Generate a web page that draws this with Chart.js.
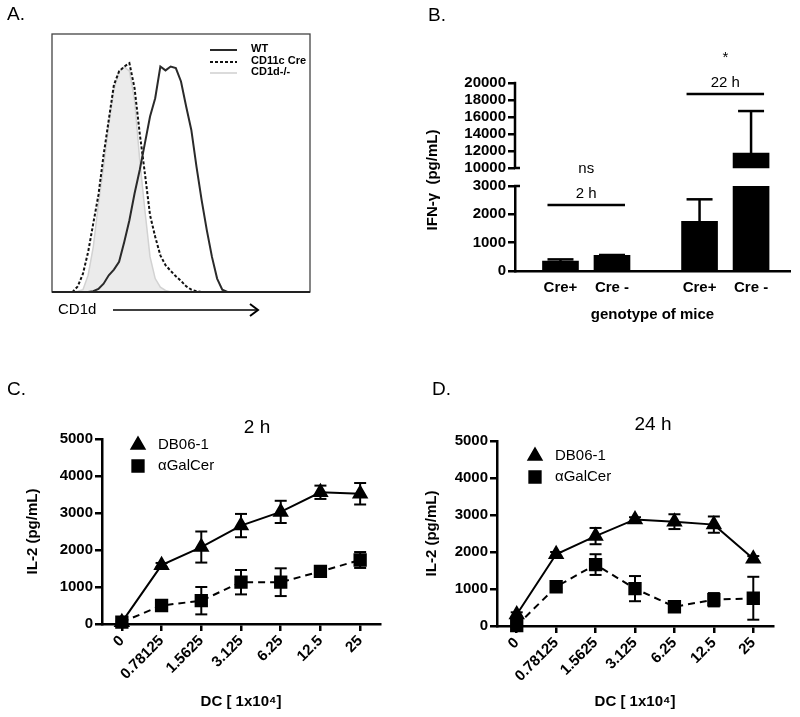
<!DOCTYPE html>
<html>
<head>
<meta charset="utf-8">
<script src="https://cdn.jsdelivr.net/npm/chart.js@4.4.0/dist/chart.umd.min.js"></script>
<style>
    html, body { margin: 0; padding: 0; background: #fff; }
    #figure { position: relative; width: 800px; height: 717px; }
    canvas { position: absolute; }
</style>
</head>
<body>
<div id="figure">
    <canvas id="panelA" width="400" height="340" style="left:0;top:0"></canvas>
    <canvas id="panelB" width="400" height="340" style="left:400px;top:0"></canvas>
    <canvas id="panelC" width="400" height="377" style="left:0;top:340px"></canvas>
    <canvas id="panelD" width="400" height="377" style="left:400px;top:340px"></canvas>
</div>
<script>
// Panel A: CD1d histogram (% of max)
const cd1dChannel = [40, 60, 80, 100, 120, 140, 160, 180, 200, 220, 240, 260, 280, 300, 320, 340, 360, 380,
    400, 420, 440, 460, 480, 500, 520, 540, 560, 580, 600, 620, 640, 660, 680, 700, 720];
const wtCounts = [0, 0, 0, 0, 0, 0, 0.3, 1.2, 3.2, 6.5, 8.7, 11.7, 19.4, 27.8, 38.2, 47.3, 57.6, 68,
    75.1, 87.4, 85.9, 87.4, 86.8, 81.6, 71.9, 62.8, 48.6, 35.6, 24, 13.6, 5.2, 0.9, 0, 0, 0];
const creCounts = [0, 0, 0, 2.2, 7.1, 15.5, 26.6, 37.6, 53.1, 66.7, 80.3, 85.5, 87.4, 88.7, 79, 61.5, 46, 29.8,
    21.4, 14.2, 10.4, 8.2, 6.1, 4.3, 2.2, 0.9, 0.3, 0, 0, 0, 0, 0, 0, 0, 0];
const koCounts = [0, 0, 0, 0.3, 0.9, 6.5, 17.5, 34.3, 48.6, 64.8, 78.4, 85.5, 87.3, 85.6, 74.5, 51.2, 31.7, 13.6,
    5.2, 1.9, 0.6, 0, 0, 0, 0, 0, 0, 0, 0, 0, 0, 0, 0, 0, 0];

// Panel B: IFN-g
const genotypes = ['Cre+', 'Cre -', 'Cre+', 'Cre -'];
const ifngMean = [350, 550, 1750, 11750];
const ifngErr = [60, 15, 780, 4950];
const ifngTicksLow = [0, 1000, 2000, 3000];
const ifngTicksHigh = [10000, 12000, 14000, 16000, 18000, 20000];
const comparisons = [
    { label: '2 h', stat: 'ns', bars: [0, 1], level: 2330 },
    { label: '22 h', stat: '*', bars: [2, 3], level: 18700 }
];

// Panels C and D: IL-2
const dcLabels = ['0', '0.78125', '1.5625', '3.125', '6.25', '12.5', '25'];
const il2Ticks = [0, 1000, 2000, 3000, 4000, 5000];
const db06Mean2h = [50, 1590, 2080, 2660, 3030, 3560, 3520];
const db06Err2h = [30, 60, 420, 315, 300, 180, 290];
const galMean2h = [50, 500, 630, 1130, 1130, 1420, 1730];
const galErr2h = [30, 60, 370, 330, 375, 50, 215];
const db06Mean24h = [310, 1940, 2430, 2880, 2820, 2740, 1820];
const db06Err24h = [60, 60, 220, 60, 200, 220, 70];
const galMean24h = [10, 1060, 1660, 1010, 520, 710, 750];
const galErr24h = [30, 60, 280, 340, 70, 180, 580];

const FONT = "'Liberation Sans', Arial, Helvetica, sans-serif";
Chart.defaults.font.family = FONT;
Chart.defaults.color = '#000';
Chart.defaults.animation = false;
Chart.defaults.responsive = false;
Chart.defaults.plugins.legend.display = false;
Chart.defaults.plugins.tooltip.enabled = false;

const tickFont = { size: 15, weight: 'bold' };
const titleFont = { size: 15, weight: 'bold' };
const axisGrid = { drawOnChartArea: false, drawTicks: true, tickLength: 7, color: '#000', lineWidth: 2.5 };
const axisBorder = { color: '#000', width: 2.5 };
const fixedTicks = values => s => { s.ticks = values.map(v => ({ value: v })); };

// Text helper
const text = (ctx, str, x, y, font, align = 'left', rotate = 0) => {
    ctx.save();
    ctx.translate(x, y);
    if (rotate) ctx.rotate(rotate);
    ctx.font = font;
    ctx.fillStyle = '#000';
    ctx.textAlign = align;
    ctx.textBaseline = 'middle';
    ctx.fillText(str, 0, 0);
    ctx.restore();
};

const line = (ctx, x1, y1, x2, y2, width = 2, color = '#000', dash = []) => {
    ctx.save();
    ctx.strokeStyle = color;
    ctx.lineWidth = width;
    ctx.setLineDash(dash);
    ctx.beginPath();
    ctx.moveTo(x1, y1);
    ctx.lineTo(x2, y2);
    ctx.stroke();
    ctx.restore();
};

// ---------- Panel A ----------
const toPoints = ys => cd1dChannel.map((x, i) => ({ x, y: ys[i] }));

new Chart(document.getElementById('panelA'), {
    type: 'line',
    data: {
        datasets: [
            { label: 'WT', data: toPoints(wtCounts), borderColor: '#2a2a2a', borderWidth: 2, pointRadius: 0, order: 0 },
            { label: 'CD11c Cre', data: toPoints(creCounts), borderColor: '#111', borderWidth: 2, borderDash: [3, 2], pointRadius: 0, order: 1 },
            { label: 'CD1d-/-', data: toPoints(koCounts), borderColor: '#d2d2d2', borderWidth: 1.5, backgroundColor: '#ebebeb', fill: 'origin', pointRadius: 0, order: 2 }
        ]
    },
    options: {
        layout: { padding: { left: 52, top: 34, right: 90, bottom: 48 } },
        scales: {
            x: { type: 'linear', display: false, min: 0, max: 1000 },
            y: { display: false, min: 0, max: 100 }
        }
    },
    plugins: [{
        id: 'histFrame',
        afterDraw(chart) {
            const { ctx, chartArea: a } = chart;
            ctx.save();
            ctx.strokeStyle = '#444';
            ctx.lineWidth = 1.3;
            ctx.strokeRect(a.left, a.top, a.right - a.left, a.bottom - a.top);
            ctx.restore();
            line(ctx, a.left, a.bottom, a.right, a.bottom, 2, '#222');

            // legend
            const items = [
                { label: 'WT', y: 49, color: '#2a2a2a', width: 2, dash: [] },
                { label: 'CD11c Cre', y: 61, color: '#111', width: 2, dash: [3, 2] },
                { label: 'CD1d-/-', y: 72, color: '#cfcfcf', width: 1.5, dash: [] }
            ];
            items.forEach(it => {
                line(ctx, 210, it.y + 1, 237, it.y + 1, it.width, it.color, it.dash);
                text(ctx, it.label, 251, it.y, 'bold 11px ' + FONT);
            });

            // axis label with arrow
            text(ctx, 'CD1d', 58, 310, '15px ' + FONT);
            line(ctx, 113, 310, 257, 310, 1.5);
            ctx.save();
            ctx.strokeStyle = '#000';
            ctx.lineWidth = 2;
            ctx.beginPath();
            ctx.moveTo(250, 304);
            ctx.lineTo(258, 310);
            ctx.lineTo(250, 316);
            ctx.stroke();
            ctx.restore();

            text(ctx, 'A.', 7, 15, '19px ' + FONT);
        }
    }]
});

// ---------- Panel B ----------
const barSlots = [1, 2, 3.7, 4.7];
const lowerMax = 3000;
const upperMin = 10000;
const upperStart = 7882; // leaves the gap of the broken axis

new Chart(document.getElementById('panelB'), {
    type: 'bar',
    data: {
        datasets: [
            {
                data: barSlots.map((x, i) => ({ x, y: [0, Math.min(ifngMean[i], lowerMax)] })),
                yAxisID: 'y', backgroundColor: '#000', barThickness: 36, grouped: false
            },
            {
                data: ifngMean.flatMap((m, i) => m > upperMin ? [{ x: barSlots[i], y: [upperMin, m] }] : []),
                yAxisID: 'yTop', backgroundColor: '#000', barThickness: 36, grouped: false
            }
        ]
    },
    options: {
        layout: { padding: { left: 0, right: 10, top: 83, bottom: 0 } },
        scales: {
            x: {
                type: 'linear', min: 0.117, max: 5.456, offset: false,
                grid: { display: false, drawTicks: false },
                border: axisBorder,
                afterBuildTicks: fixedTicks(barSlots),
                ticks: { font: tickFont, padding: 8, autoSkip: false, callback: (v, i) => genotypes[i] },
                title: { display: true, text: 'genotype of mice', font: titleFont, padding: { bottom: 16 } },
                afterFit: s => { s.height = 69; }
            },
            yTop: {
                stack: 'ifng', stackWeight: 103, weight: 1, position: 'left',
                min: upperStart, max: 20000,
                afterBuildTicks: fixedTicks(ifngTicksHigh),
                ticks: { font: tickFont, padding: 2, autoSkip: false, callback: v => String(v) },
                grid: axisGrid,
                border: { display: false },
                afterFit: s => { s.width = 115; }
            },
            y: {
                stack: 'ifng', stackWeight: 85, weight: 0, position: 'left',
                min: 0, max: lowerMax,
                afterBuildTicks: fixedTicks(ifngTicksLow),
                ticks: { font: tickFont, padding: 2, autoSkip: false, callback: v => String(v) },
                grid: axisGrid,
                border: axisBorder,
                afterFit: s => { s.width = 115; }
            }
        }
    },
    plugins: [{
        id: 'brokenAxis',
        afterDraw(chart) {
            const { ctx, scales: { x, y, yTop } } = chart;
            const ax = yTop.right;
            line(ctx, ax, yTop.getPixelForValue(upperMin) + 1, ax, yTop.getPixelForValue(20000) - 1.2, 2.5);
            line(ctx, ax - 1, yTop.getPixelForValue(upperMin), ax + 5, yTop.getPixelForValue(upperMin), 2.5);
            line(ctx, ax - 1, y.getPixelForValue(lowerMax), ax + 5, y.getPixelForValue(lowerMax), 2.5);

            // error bars (upper only)
            ifngMean.forEach((m, i) => {
                const px = x.getPixelForValue(barSlots[i]);
                const base = m > upperMin ? yTop : y;
                const top = m + ifngErr[i];
                const tScale = top > lowerMax ? yTop : y;
                const y0 = base.getPixelForValue(m);
                const y1 = tScale.getPixelForValue(top);
                line(ctx, px, y0, px, y1, 2.5);
                line(ctx, px - 13, y1, px + 13, y1, 2.5);
            });

            // comparison bars
            comparisons.forEach(c => {
                const x0 = x.getPixelForValue(barSlots[c.bars[0]]) - 13;
                const x1 = x.getPixelForValue(barSlots[c.bars[1]]) + 13;
                const sc = c.level > lowerMax ? yTop : y;
                const ly = sc.getPixelForValue(c.level);
                line(ctx, x0, ly, x1, ly, 2.5);
                const cx = (x0 + x1) / 2;
                text(ctx, c.label, cx, ly - 11, '15px ' + FONT, 'center');
                text(ctx, c.stat, cx, ly - 36, '15px ' + FONT, 'center');
            });

            text(ctx, 'IFN-γ  (pg/mL)', 33, 180, 'bold 15px ' + FONT, 'center', -Math.PI / 2);
            text(ctx, 'B.', 28, 16, '19px ' + FONT);
        }
    }]
});

// ---------- Panels C, D ----------
const errorBarPlugin = {
    id: 'errorBars',
    afterDatasetsDraw(chart) {
        const { ctx, scales } = chart;
        chart.data.datasets.forEach((ds, di) => {
            if (!ds.errors) return;
            const meta = chart.getDatasetMeta(di);
            const ys = scales[meta.yAxisID];
            meta.data.forEach((pt, i) => {
                const v = ds.data[i], e = ds.errors[i];
                const yHi = ys.getPixelForValue(v + e);
                const yLo = ys.getPixelForValue(v - e);
                line(ctx, pt.x, yLo, pt.x, yHi, 2);
                line(ctx, pt.x - 6, yHi, pt.x + 6, yHi, 2);
                line(ctx, pt.x - 6, yLo, pt.x + 6, yLo, 2);
            });
        });
    }
};

const doseChart = (canvasId, db06Mean, db06Err, galMean, galErr, f) => new Chart(document.getElementById(canvasId), {
    type: 'line',
    data: {
        labels: dcLabels,
        datasets: [
            {
                label: 'DB06-1', data: db06Mean, errors: db06Err,
                borderColor: '#000', borderWidth: 2, pointStyle: 'triangle', pointRadius: 7.5,
                pointBackgroundColor: '#000', pointBorderColor: '#000', clip: false
            },
            {
                label: 'αGalCer', data: galMean, errors: galErr,
                borderColor: '#000', borderWidth: 2, borderDash: [7, 5], pointStyle: 'rect', pointRadius: 8,
                pointBackgroundColor: '#000', pointBorderColor: '#000', clip: false
            }
        ]
    },
    options: {
        layout: { padding: { left: 0, right: f.right, top: f.top, bottom: 0 } },
        scales: {
            x: {
                offset: true,
                grid: axisGrid,
                border: axisBorder,
                ticks: { font: tickFont, minRotation: 45, maxRotation: 45, padding: 1, autoSkip: false },
                title: { display: true, text: 'DC [ 1x10⁴]', font: titleFont, padding: { bottom: 6 } },
                afterFit: s => { s.height = f.xAxisHeight; }
            },
            y: {
                min: 0, max: 5000,
                afterBuildTicks: fixedTicks(il2Ticks),
                ticks: { font: tickFont, padding: 2, autoSkip: false, callback: v => String(v) },
                grid: axisGrid,
                border: axisBorder,
                title: { display: true, text: 'IL-2 (pg/mL)', font: titleFont, padding: { top: f.yTitleX - 9 } },
                afterFit: s => { s.width = f.axisLeft; }
            }
        }
    },
    plugins: [errorBarPlugin, {
        id: 'doseDecor',
        afterDraw(chart) {
            const { ctx } = chart;
            text(ctx, f.letter, f.letterX, 50, '19px ' + FONT);
            text(ctx, f.title, f.titleX, f.titleY, '19px ' + FONT, 'center');
            const styles = [['triangle', 7.5], ['rect', 8]];
            chart.data.datasets.forEach((ds, i) => {
                const ly = f.legendY + i * 21;
                ctx.save();
                ctx.fillStyle = '#000';
                ctx.strokeStyle = '#000';
                Chart.helpers.drawPoint(ctx, { pointStyle: styles[i][0], radius: styles[i][1], rotation: 0, borderWidth: 1 }, f.legendX, ly);
                ctx.restore();
                text(ctx, ds.label, f.legendX + 20, ly, '15px ' + FONT);
            });
        }
    }]
});

doseChart('panelC', db06Mean2h, db06Err2h, galMean2h, galErr2h, {
    axisLeft: 102, right: 20, top: 99, xAxisHeight: 93, yTitleX: 33,
    letter: 'C.', letterX: 7, title: '2 h', titleX: 257, titleY: 88, legendX: 138, legendY: 105
});

doseChart('panelD', db06Mean24h, db06Err24h, galMean24h, galErr24h, {
    axisLeft: 97, right: 27, top: 101, xAxisHeight: 91, yTitleX: 32,
    letter: 'D.', letterX: 32, title: '24 h', titleX: 253, titleY: 85, legendX: 135, legendY: 116
});
</script>
</body>
</html>
